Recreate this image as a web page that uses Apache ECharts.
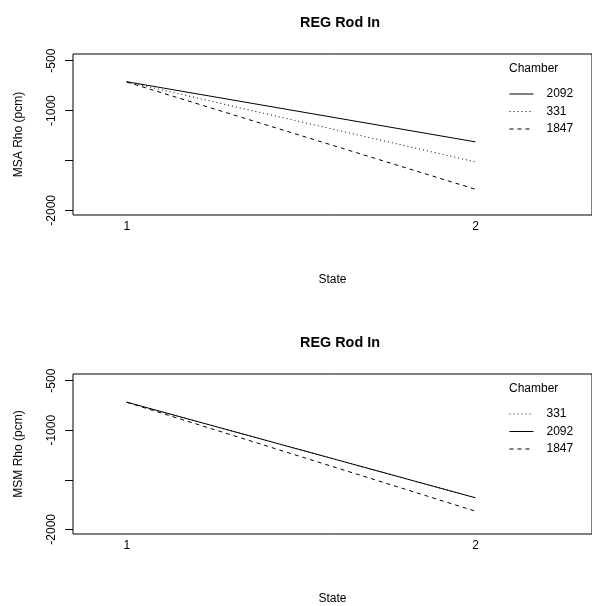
<!DOCTYPE html>
<html>
<head>
<meta charset="utf-8">
<script src="https://cdn.jsdelivr.net/npm/echarts@6/dist/echarts.min.js"></script>
<style>html,body{margin:0;padding:0;background:#fff}#c{width:592px;height:606px}</style>
</head>
<body>
<div id="c"></div>
<script>
// ---- data ----
var states = [1, 2];
var stateLabels = ['1', '2'];
var yTicks = [-2000, -1500, -1000, -500];
var yTickLabels = [-2000, -1000, -500];
// Panel 1: MSA Rho (pcm)
var msaOrder = ['2092', '331', '1847'];
var msa2092 = [-711, -1314];
var msa331 = [-712, -1515];
var msa1847 = [-714, -1789];
// Panel 2: MSM Rho (pcm)
var msmOrder = ['331', '2092', '1847'];
var msm331 = [-717, -1682];
var msm2092 = [-717, -1682];
var msm1847 = [-718, -1817];

var FONT = '"Liberation Sans", Arial, Helvetica, sans-serif';
var styles = {
  '2092': 'solid',
  '331': [1, 3],
  '1847': [4, 4]
};
function pts(vals) { return states.map(function (s, i) { return [s, vals[i]]; }); }

var panel1 = { '2092': msa2092, '331': msa331, '1847': msa1847 };
var panel2 = { '331': msm331, '2092': msm2092, '1847': msm1847 };

var chart = echarts.init(document.getElementById('c'), null, { renderer: 'canvas' });

function grid(top) {
  return { left: 73, top: top, width: 524, height: 161, show: true, borderColor: '#000', borderWidth: 1, backgroundColor: 'transparent' };
}
function xAxis(idx) {
  return {
    type: 'value', gridIndex: idx, min: 0.846, max: 2.334,
    name: 'State', nameLocation: 'middle', nameGap: 59,
    nameTextStyle: { color: '#000', fontSize: 12, fontFamily: FONT },
    axisLine: { show: false }, axisTick: { show: false }, splitLine: { show: false },
    axisLabel: { color: '#000', fontSize: 12, fontFamily: FONT, margin: 6, customValues: states,
      formatter: function (v) { return stateLabels[states.indexOf(v)]; } }
  };
}
function yAxis(idx, name) {
  return {
    type: 'value', gridIndex: idx, min: -2047, max: -433,
    name: name, nameLocation: 'middle', nameGap: 48, nameRotate: 90,
    nameTextStyle: { color: '#000', fontSize: 12, fontFamily: FONT },
    axisLine: { show: false },
    axisTick: { show: true, length: 8, lineStyle: { color: '#000', width: 1 }, customValues: yTicks },
    splitLine: { show: false },
    axisLabel: { color: '#000', fontSize: 12, fontFamily: FONT, rotate: 90, margin: 15, customValues: yTickLabels,
      formatter: function (v) { return String(v); } }
  };
}
function mkSeries(order, data, idx) {
  return order.map(function (name) {
    return {
      type: 'line', name: name, xAxisIndex: idx, yAxisIndex: idx,
      data: pts(data[name]), symbol: 'none', silent: true, animation: false,
      lineStyle: { color: '#000', width: 1, type: styles[name] },
      itemStyle: { color: '#000' }
    };
  });
}
function legend(top, order) {
  return {
    data: order, orient: 'vertical', left: 509, top: top, padding: 0,
    itemWidth: 24, itemHeight: 12, itemGap: 5.5,
    itemStyle: { opacity: 0 },
    lineStyle: { width: 1 },
    textStyle: { color: '#000', fontSize: 12, fontFamily: FONT, padding: [0, 0, 0, 8] },
    selectedMode: false, inactiveColor: '#000'
  };
}

var option = {
  backgroundColor: '#fff',
  animation: false,
  title: [
    { text: 'REG Rod In', left: 335, top: 11, textAlign: 'center', textStyle: { fontSize: 14.4, fontWeight: 'bold', color: '#000', fontFamily: FONT } },
    { text: 'REG Rod In', left: 335, top: 331, textAlign: 'center', textStyle: { fontSize: 14.4, fontWeight: 'bold', color: '#000', fontFamily: FONT } },
    { text: 'Chamber', left: 509, top: 63, padding: 0, textStyle: { fontSize: 12, fontWeight: 'normal', color: '#000', fontFamily: FONT } },
    { text: 'Chamber', left: 509, top: 383, padding: 0, textStyle: { fontSize: 12, fontWeight: 'normal', color: '#000', fontFamily: FONT } }
  ],
  legend: [legend(88, msaOrder), legend(408, msmOrder)],
  grid: [grid(54), grid(374)],
  xAxis: [xAxis(0), xAxis(1)],
  yAxis: [yAxis(0, 'MSA Rho (pcm)'), yAxis(1, 'MSM Rho (pcm)')],
  series: mkSeries(msaOrder, panel1, 0).concat(mkSeries(msmOrder, panel2, 1))
};
chart.setOption(option);
</script>
</body>
</html>
